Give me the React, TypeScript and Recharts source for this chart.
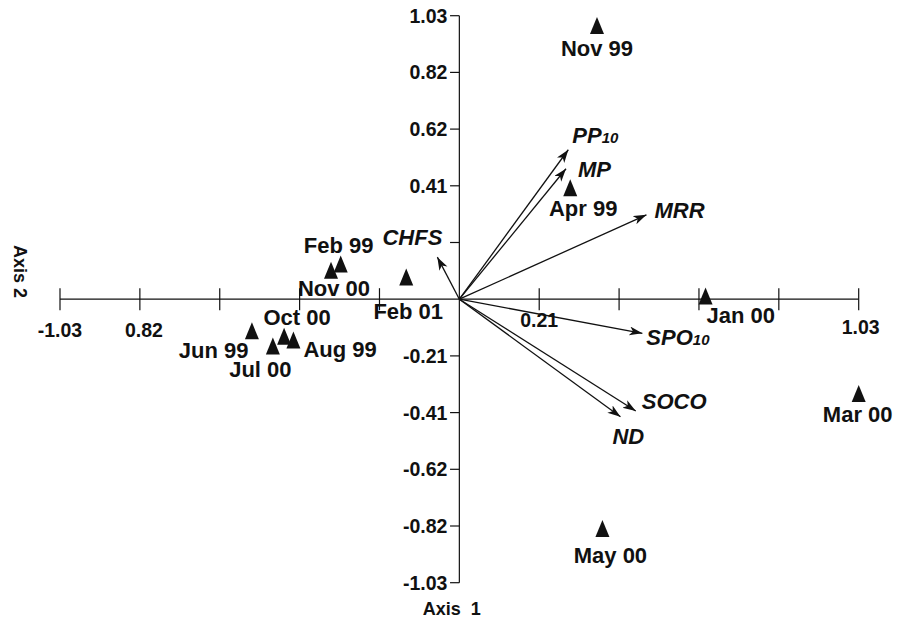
import React from 'react';
import { ScatterChart, Scatter, XAxis, YAxis, ReferenceLine } from 'recharts';

// ---- data ----
const sampleNames = ['Nov 99', 'Apr 99', 'Jan 00', 'Feb 99', 'Nov 00', 'Feb 01', 'Jun 99', 'Jul 00', 'Oct 00', 'Aug 99', 'Mar 00', 'May 00'];
const sampleAxis1 = [0.355, 0.286, 0.635, -0.306, -0.331, -0.137, -0.535, -0.481, -0.452, -0.428, 1.03, 0.369];
const sampleAxis2 = [0.994, 0.405, 0.012, 0.128, 0.105, 0.081, -0.115, -0.17, -0.135, -0.148, -0.343, -0.833];

const variableNames = ['PP10', 'MP', 'MRR', 'CHFS', 'SPO10', 'SOCO', 'ND'];
const variableAxis1 = [0.281, 0.275, 0.4825, -0.0567, 0.472, 0.455, 0.4155];
const variableAxis2 = [0.543, 0.474, 0.3065, 0.1527, -0.124, -0.406, -0.427];

const tickValues = [-1.03, -0.824, -0.618, -0.412, -0.206, 0.206, 0.412, 0.618, 0.824, 1.03];
const axis1TickLabels = ['-1.03', '0.82', '', '', '', '0.21', '', '', '', '1.03'];
const axis2TickLabels = ['-1.03', '-0.82', '-0.62', '-0.41', '-0.21', '', '0.41', '0.62', '0.82', '1.03'];

// ---- layout (offsets in px, kept apart from the data) ----
type Lay = { dx: number; dy: number; anchor: 'start' | 'middle' | 'end' };
const sampleLabelLayout: Record<string, Lay> = {
  'Nov 99': { dx: 0, dy: 30, anchor: 'middle' },
  'Apr 99': { dx: 13, dy: 28.5, anchor: 'middle' },
  'Jan 00': { dx: 1, dy: 27, anchor: 'start' },
  'Feb 99': { dx: -2, dy: -11, anchor: 'middle' },
  'Nov 00': { dx: 3, dy: 26, anchor: 'middle' },
  'Feb 01': { dx: 2, dy: 42, anchor: 'middle' },
  'Jun 99': { dx: -3.5, dy: 27, anchor: 'end' },
  'Jul 00': { dx: -12.5, dy: 31, anchor: 'middle' },
  'Oct 00': { dx: 13, dy: -11, anchor: 'middle' },
  'Aug 99': { dx: 10, dy: 17, anchor: 'start' },
  'Mar 00': { dx: -1, dy: 28, anchor: 'middle' },
  'May 00': { dx: 8, dy: 35, anchor: 'middle' },
};
const variableLabelLayout: Record<string, Lay> = {
  PP10: { dx: 4, dy: -7, anchor: 'start' },
  MP: { dx: 12, dy: 8, anchor: 'start' },
  MRR: { dx: 8, dy: 3, anchor: 'start' },
  CHFS: { dx: 5, dy: -12, anchor: 'end' },
  SPO10: { dx: 4, dy: 12, anchor: 'start' },
  SOCO: { dx: 6, dy: -2, anchor: 'start' },
  ND: { dx: -8, dy: 27, anchor: 'start' },
};
const axis1TickLabelLayout: Record<string, Lay> = {
  '-1.03': { dx: 0, dy: 37.5, anchor: 'middle' },
  '0.82': { dx: 4, dy: 37.3, anchor: 'middle' },
  '0.21': { dx: 0, dy: 28, anchor: 'middle' },
  '1.03': { dx: 2, dy: 35, anchor: 'middle' },
};

const FONT = '"Liberation Sans", Arial, Helvetica, sans-serif';
const INK = '#111';

const samples = sampleNames.map((name, i) => ({ name, x: sampleAxis1[i], y: sampleAxis2[i] }));
const variables = variableNames.map((name, i) => ({ name, x: variableAxis1[i], y: variableAxis2[i] }));
const axis1Ticks = tickValues.map((t, i) => ({ x: t, y: 0, label: axis1TickLabels[i] })).filter((d) => d.label);
const axis2Ticks = tickValues.map((t, i) => ({ x: 0, y: t, label: axis2TickLabels[i] })).filter((d) => d.label);

const SampleShape = (props: any) => {
  const { cx, cy, payload } = props;
  const lay = sampleLabelLayout[payload.name];
  return (
    <g>
      <polygon points={`${cx},${cy - 8.5} ${cx + 7},${cy + 8.5} ${cx - 7},${cy + 8.5}`} fill={INK} />
      <text x={cx + lay.dx} y={cy + lay.dy} textAnchor={lay.anchor} fontFamily={FONT} fontWeight="bold" fontSize={22} fill={INK}>
        {payload.name}
      </text>
    </g>
  );
};

const VariableShape = (props: any) => {
  const { cx, cy, payload } = props;
  const lay = variableLabelLayout[payload.name];
  const m = /^(\D+)(\d*)$/.exec(payload.name);
  const main = m ? m[1] : payload.name;
  const sub = m ? m[2] : '';
  return (
    <text x={cx + lay.dx} y={cy + lay.dy} textAnchor={lay.anchor} fontFamily={FONT} fontWeight="bold" fontStyle="italic" fontSize={22} fill={INK}>
      {main}
      {sub ? <tspan fontSize={15}>{sub}</tspan> : null}
    </text>
  );
};

const Axis1TickShape = (props: any) => {
  const { cx, cy, payload } = props;
  const lay = axis1TickLabelLayout[payload.label];
  return (
    <text x={cx + lay.dx} y={cy + lay.dy} textAnchor={lay.anchor} fontFamily={FONT} fontWeight="bold" fontSize={19.5} fill={INK}>
      {payload.label}
    </text>
  );
};

const Axis2TickShape = (props: any) => {
  const { cx, cy, payload } = props;
  return (
    <text x={cx - 12} y={cy + 7} textAnchor="end" fontFamily={FONT} fontWeight="bold" fontSize={19.5} fill={INK}>
      {payload.label}
    </text>
  );
};

export default function App() {
  return (
    <div style={{ position: 'absolute', left: 0, top: 0, width: 905, height: 619, background: '#fff' }}>
      <ScatterChart width={905} height={619} margin={{ top: 15.7, right: 46.3, bottom: 36.3, left: 60 }}>
        <XAxis type="number" dataKey="x" domain={[-1.03, 1.03]} hide />
        <YAxis type="number" dataKey="y" domain={[-1.03, 1.03]} hide />
        <ReferenceLine y={0} stroke={INK} strokeWidth={1.2} />
        <ReferenceLine x={0} stroke={INK} strokeWidth={1.2} />
        {tickValues.map((t) => (
          <ReferenceLine key={'hx' + t} segment={[{ x: t, y: -0.04 }, { x: t, y: 0.04 }]} stroke={INK} strokeWidth={1.2} ifOverflow="visible" />
        ))}
        {tickValues.map((t) => (
          <ReferenceLine key={'vy' + t} segment={[{ x: -0.024, y: t }, { x: 0, y: t }]} stroke={INK} strokeWidth={1.2} ifOverflow="visible" />
        ))}
        {variables.map((v) => (
          <ReferenceLine
            key={'arr' + v.name}
            segment={[{ x: 0, y: 0 }, { x: v.x, y: v.y }]}
            stroke={INK}
            strokeWidth={1.3}
            markerEnd="url(#arrowHead)"
            ifOverflow="visible"
          />
        ))}
        <Scatter data={axis1Ticks} shape={Axis1TickShape} isAnimationActive={false} />
        <Scatter data={axis2Ticks} shape={Axis2TickShape} isAnimationActive={false} />
        <Scatter data={variables} shape={VariableShape} isAnimationActive={false} />
        <Scatter data={samples} shape={SampleShape} isAnimationActive={false} />
      </ScatterChart>
      <svg width={905} height={619} style={{ position: 'absolute', left: 0, top: 0, pointerEvents: 'none' }}>
        <defs>
          <marker id="arrowHead" markerWidth={16} markerHeight={12} refX={13} refY={4.5} orient="auto" markerUnits="userSpaceOnUse">
            <path d="M0,0 L13,4.5 L0,9 L3.5,4.5 Z" fill={INK} />
          </marker>
        </defs>
        <text transform="translate(14,271.6) rotate(90)" textAnchor="middle" fontFamily={FONT} fontWeight="bold" fontSize={18} fill={INK}>
          Axis 2
        </text>
        <text x={422.7} y={615} fontFamily={FONT} fontWeight="bold" fontSize={18} fill={INK}>
          {'Axis\u00a0\u00a01'}
        </text>
      </svg>
    </div>
  );
}
